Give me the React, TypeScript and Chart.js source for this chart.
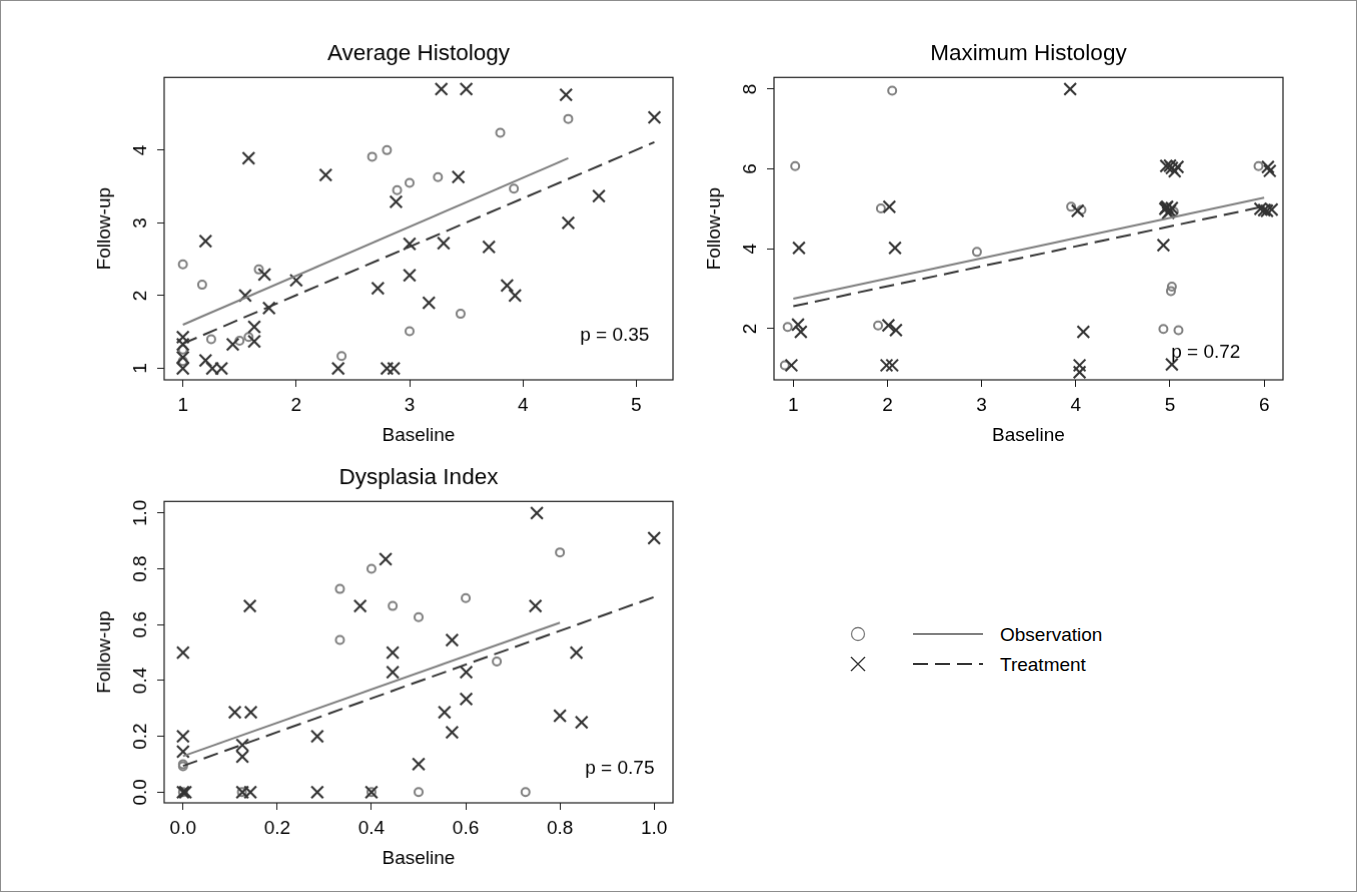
import React, { useEffect, useRef } from 'react';
import { Chart, registerables } from 'chart.js';

Chart.register(...registerables);

const FONT = '"Liberation Sans", Arial, Helvetica, sans-serif';
const BASE = 19;
const TITLE = 22.5;
const OBS_COLOR = '#7f7f7f';
const TRT_COLOR = '#333333';
const AXIS_COLOR = '#1a1a1a';

// ---------------- Average Histology ----------------
const avgObs = [
  [1.0, 2.43], [1.17, 2.15], [1.67, 2.36], [1.25, 1.4], [1.5, 1.38], [1.58, 1.43],
  [1.0, 1.26], [1.0, 1.1], [2.4, 1.17], [2.67, 3.91], [2.8, 4.0], [2.89, 3.45],
  [3.0, 3.55], [3.25, 3.63], [3.8, 4.24], [4.4, 4.43], [3.92, 3.47], [3.45, 1.75], [3.0, 1.51],
];
const avgTrt = [
  [1.0, 1.43], [1.0, 1.33], [1.0, 1.15], [1.0, 1.0], [1.2, 2.75], [1.58, 3.89], [2.26, 3.66],
  [2.88, 3.29], [3.28, 4.84], [3.5, 4.84], [4.38, 4.76], [5.16, 4.45], [3.43, 3.63], [4.67, 3.37],
  [4.4, 3.0], [3.0, 2.71], [3.3, 2.72], [3.7, 2.67], [3.0, 2.28], [3.17, 1.9], [3.86, 2.14],
  [3.93, 2.0], [2.8, 1.0], [2.86, 1.0], [2.72, 2.1], [1.72, 2.29], [2.0, 2.21], [1.55, 2.0],
  [1.76, 1.83], [1.63, 1.57], [1.63, 1.37], [1.44, 1.33], [1.2, 1.11], [1.26, 1.0], [1.34, 1.0], [2.37, 1.0],
];
const avgObsFit = [[1.0, 1.6], [4.4, 3.89]];
const avgTrtFit = [[1.0, 1.34], [5.16, 4.11]];
const avgXTicks = [1, 2, 3, 4, 5];
const avgYTicks = [1, 2, 3, 4];
const avgXRange = [0.835, 5.324];
const avgYRange = [0.842, 5.0];
const avgP = 'p = 0.35';
const avgPAt = [4.81, 1.446];

// ---------------- Maximum Histology ----------------
const maxObs = [
  [2.05, 7.96], [1.02, 6.07], [1.93, 5.01], [2.95, 3.92], [0.94, 2.04], [1.9, 2.08], [0.91, 1.08],
  [3.95, 5.05], [4.06, 4.97], [5.04, 4.93], [5.94, 6.07], [5.02, 3.05], [5.01, 2.94], [4.93, 1.99],
  [5.09, 1.96], [4.97, 5.02],
];
const maxTrt = [
  [3.94, 8.0], [4.96, 6.07], [5.02, 6.02], [5.05, 5.94], [5.08, 6.05], [5.0, 6.08], [6.04, 6.05],
  [6.06, 5.95], [4.95, 5.0], [4.97, 5.05], [5.0, 4.95], [4.98, 4.9], [5.02, 5.02], [4.96, 5.03],
  [5.96, 5.0], [6.0, 4.97], [6.03, 4.95], [6.08, 4.98], [4.93, 4.09], [4.02, 4.95], [1.06, 4.02],
  [2.08, 4.02], [2.02, 5.05], [1.05, 2.1], [1.08, 1.92], [2.01, 2.08], [2.09, 1.96], [0.98, 1.08],
  [1.99, 1.08], [2.05, 1.08], [4.08, 1.92], [4.04, 1.08], [4.04, 0.91], [5.02, 1.1],
];
const maxObsFit = [[1.0, 2.75], [6.0, 5.28]];
const maxTrtFit = [[1.0, 2.56], [6.08, 5.1]];
const maxXTicks = [1, 2, 3, 4, 5, 6];
const maxYTicks = [2, 4, 6, 8];
const maxXRange = [0.795, 6.2];
const maxYRange = [0.716, 8.29];
const maxP = 'p = 0.72';
const maxPAt = [5.38, 1.39];

// ---------------- Dysplasia Index ----------------
const dysObs = [
  [0.333, 0.728], [0.4, 0.8], [0.445, 0.667], [0.333, 0.545], [0.5, 0.627], [0.6, 0.695],
  [0.8, 0.859], [0.666, 0.468], [0.0, 0.093], [0.0, 0.1], [0.125, 0.0], [0.4, 0.0], [0.5, 0.0],
  [0.727, 0.0], [0.0, 0.0],
];
const dysTrt = [
  [0.0, 0.5], [0.142, 0.667], [0.376, 0.667], [0.43, 0.835], [0.445, 0.5], [0.751, 1.0], [1.0, 0.91],
  [0.748, 0.667], [0.571, 0.545], [0.835, 0.5], [0.445, 0.43], [0.601, 0.43], [0.601, 0.334],
  [0.555, 0.286], [0.571, 0.214], [0.8, 0.274], [0.846, 0.25], [0.5, 0.1], [0.11, 0.286],
  [0.144, 0.286], [0.0, 0.2], [0.0, 0.145], [0.126, 0.169], [0.126, 0.127], [0.285, 0.2],
  [0.0, 0.0], [0.005, 0.0], [0.126, 0.0], [0.143, 0.0], [0.285, 0.0], [0.4, 0.0],
];
const dysObsFit = [[0.0, 0.129], [0.8, 0.607]];
const dysTrtFit = [[0.0, 0.094], [1.0, 0.699]];
const dysXTicks = [0, 0.2, 0.4, 0.6, 0.8, 1.0];
const dysYTicks = [0, 0.2, 0.4, 0.6, 0.8, 1.0];
const dysXRange = [-0.04, 1.04];
const dysYRange = [-0.0384, 1.0416];
const dysP = 'p = 0.75';
const dysPAt = [0.927, 0.085];

// ---------------- legend ----------------
const legendLabels = ['Observation', 'Treatment'];

// ---------------- layout (page pixels) ----------------
const YAXIS_W = 100;
const PAD_L = 4;
const PAD_R = 27;
const TITLE_PT = 10.6;
const TITLE_PB = 9.7;
const TITLE_BLOCK = TITLE_PT + TITLE * 1.2 + TITLE_PB;
const X_H = 72;
const TICK_LEN = 7;

interface Panel {
  title: string;
  obs: number[][];
  trt: number[][];
  obsFit: number[][];
  trtFit: number[][];
  xTicks: number[];
  yTicks: number[];
  xRange: number[];
  yRange: number[];
  p: string;
  pAt: number[];
  decimals: number;
  area: number[]; // L, T, R, B
}

const panels: Panel[] = [
  { title: 'Average Histology', obs: avgObs, trt: avgTrt, obsFit: avgObsFit, trtFit: avgTrtFit, xTicks: avgXTicks, yTicks: avgYTicks, xRange: avgXRange, yRange: avgYRange, p: avgP, pAt: avgPAt, decimals: 0, area: [164.3, 77.3, 672.7, 379.5] },
  { title: 'Maximum Histology', obs: maxObs, trt: maxTrt, obsFit: maxObsFit, trtFit: maxTrtFit, xTicks: maxXTicks, yTicks: maxYTicks, xRange: maxXRange, yRange: maxYRange, p: maxP, pAt: maxPAt, decimals: 0, area: [774, 77.3, 1283, 379.5] },
  { title: 'Dysplasia Index', obs: dysObs, trt: dysTrt, obsFit: dysObsFit, trtFit: dysTrtFit, xTicks: dysXTicks, yTicks: dysYTicks, xRange: dysXRange, yRange: dysYRange, p: dysP, pAt: dysPAt, decimals: 1, area: [164.3, 501.7, 672.7, 802.7] },
];

function geom(p: Panel) {
  const [L, T, R, B] = p.area;
  const left = L - YAXIS_W - PAD_L;
  const top = T - TITLE_BLOCK;
  return { left, top, width: R + PAD_R - left, height: B + X_H - top };
}

function textWidth(t: string, size: number) {
  const c = document.createElement('canvas').getContext('2d');
  if (!c) return t.length * size * 0.55;
  c.font = `${size}px ${FONT}`;
  return c.measureText(t).width;
}

const toXY = (arr: number[][]) => arr.map(([x, y]) => ({ x, y }));

const boxPlugin = {
  id: 'rbox',
  afterDatasetsDraw(chart: any, _args: any, opts: any) {
    const { ctx, chartArea: a } = chart;
    ctx.save();
    ctx.strokeStyle = AXIS_COLOR;
    ctx.lineWidth = 1.2;
    ctx.strokeRect(a.left, a.top, a.right - a.left, a.bottom - a.top);
    if (opts && opts.text) {
      const x = chart.scales.x.getPixelForValue(opts.at[0]);
      const y = chart.scales.y.getPixelForValue(opts.at[1]);
      ctx.font = `${BASE}px ${FONT}`;
      ctx.fillStyle = '#000';
      ctx.textAlign = 'center';
      ctx.textBaseline = 'middle';
      ctx.fillText(opts.text, x, y);
    }
    ctx.restore();
  },
};

function makeConfig(p: Panel): any {
  const fmt = (v: number) => v.toFixed(p.decimals);
  const widest = Math.max(...p.yTicks.map((v) => textWidth(fmt(v), BASE)));
  const yPad = 16.6 - widest / 2;
  const font = { family: FONT, size: BASE };
  const grid = { drawOnChartArea: false, drawTicks: true, tickLength: TICK_LEN, color: AXIS_COLOR, lineWidth: 1 };
  return {
    type: 'scatter',
    data: {
      datasets: [
        {
          data: toXY(p.obsFit), showLine: true, borderColor: OBS_COLOR, borderWidth: 2,
          pointRadius: 0, pointHoverRadius: 0, fill: false, clip: false,
        },
        {
          data: toXY(p.trtFit), showLine: true, borderColor: TRT_COLOR, borderWidth: 2, borderDash: [15, 7],
          pointRadius: 0, pointHoverRadius: 0, fill: false, clip: false,
        },
        {
          data: toXY(p.trt), pointStyle: 'crossRot', pointRadius: 8.3, pointHoverRadius: 8.3,
          borderWidth: 2.1, pointBorderWidth: 2.1, borderColor: TRT_COLOR, pointBorderColor: TRT_COLOR,
          backgroundColor: 'rgba(0,0,0,0)', pointBackgroundColor: 'rgba(0,0,0,0)', clip: false,
        },
        {
          data: toXY(p.obs), pointStyle: 'circle', pointRadius: 4, pointHoverRadius: 4,
          borderWidth: 2, pointBorderWidth: 2, borderColor: OBS_COLOR, pointBorderColor: OBS_COLOR,
          backgroundColor: 'rgba(0,0,0,0)', pointBackgroundColor: 'rgba(0,0,0,0)', clip: false,
        },
      ],
    },
    options: {
      responsive: false,
      animation: false,
      events: [],
      devicePixelRatio: 1,
      layout: { padding: { left: PAD_L, right: PAD_R, top: 0, bottom: 0 } },
      plugins: {
        legend: { display: false },
        tooltip: { enabled: false },
        title: {
          display: true, text: p.title, fullSize: false, color: '#000',
          font: { family: FONT, size: TITLE, weight: 'normal' },
          padding: { top: TITLE_PT, bottom: TITLE_PB },
        },
        rbox: { text: p.p, at: p.pAt },
      },
      scales: {
        x: {
          type: 'linear', min: p.xRange[0], max: p.xRange[1],
          afterBuildTicks: (s: any) => { s.ticks = p.xTicks.map((v) => ({ value: v })); },
          afterFit: (s: any) => { s.height = X_H; },
          grid, border: { display: false },
          ticks: { font, color: '#000', padding: 7.2, maxRotation: 0, minRotation: 0, autoSkip: false, callback: (v: number) => fmt(v) },
          title: { display: true, text: 'Baseline', color: '#000', font, padding: { top: 0, bottom: 4.5 } },
        },
        y: {
          type: 'linear', min: p.yRange[0], max: p.yRange[1],
          afterBuildTicks: (s: any) => { s.ticks = p.yTicks.map((v) => ({ value: v })); },
          afterFit: (s: any) => { s.width = YAXIS_W; },
          grid, border: { display: false },
          ticks: { font, color: '#000', padding: yPad, minRotation: 90, maxRotation: 90, crossAlign: 'center', autoSkip: false, callback: (v: number) => fmt(v) },
          title: { display: true, text: 'Follow-up', color: '#000', font, padding: { top: 29.3, bottom: 0 } },
        },
      },
    },
    plugins: [boxPlugin],
  };
}

function PanelChart({ panel }: { panel: Panel }) {
  const ref = useRef<HTMLCanvasElement | null>(null);
  const g = geom(panel);
  useEffect(() => {
    if (!ref.current) return;
    const chart = new Chart(ref.current, makeConfig(panel));
    return () => chart.destroy();
  }, [panel]);
  return (
    <div style={{ position: 'absolute', left: g.left, top: g.top, width: g.width, height: g.height }}>
      <canvas ref={ref} width={g.width} height={g.height} style={{ width: g.width, height: g.height, display: 'block' }} />
    </div>
  );
}

function Legend() {
  const tStyle = { fontFamily: FONT, fontSize: BASE, fill: '#000' } as any;
  return (
    <svg style={{ position: 'absolute', left: 830, top: 605, overflow: 'visible' }} width={330} height={90}>
      <circle cx={28} cy={29} r={6.5} fill="none" stroke={OBS_COLOR} strokeWidth={1.3} />
      <path d="M21,52 L35,66 M35,52 L21,66" stroke={TRT_COLOR} strokeWidth={1.4} fill="none" />
      <line x1={83} y1={29} x2={153} y2={29} stroke={OBS_COLOR} strokeWidth={2} />
      <line x1={83} y1={59} x2={153} y2={59} stroke={TRT_COLOR} strokeWidth={2} strokeDasharray="15 7" />
      <text x={170} y={29} dominantBaseline="central" style={tStyle}>{legendLabels[0]}</text>
      <text x={170} y={59} dominantBaseline="central" style={tStyle}>{legendLabels[1]}</text>
    </svg>
  );
}

export default function App() {
  return (
    <div style={{ position: 'absolute', left: 0, top: 0, width: 1357, height: 892, background: '#fff', overflow: 'hidden' }}>
      <div style={{ position: 'absolute', left: 0, top: 0, width: 1357, height: 892, boxSizing: 'border-box', border: '1px solid #8c8c8c' }} />
      {panels.map((p) => (
        <PanelChart key={p.title} panel={p} />
      ))}
      <Legend />
    </div>
  );
}
